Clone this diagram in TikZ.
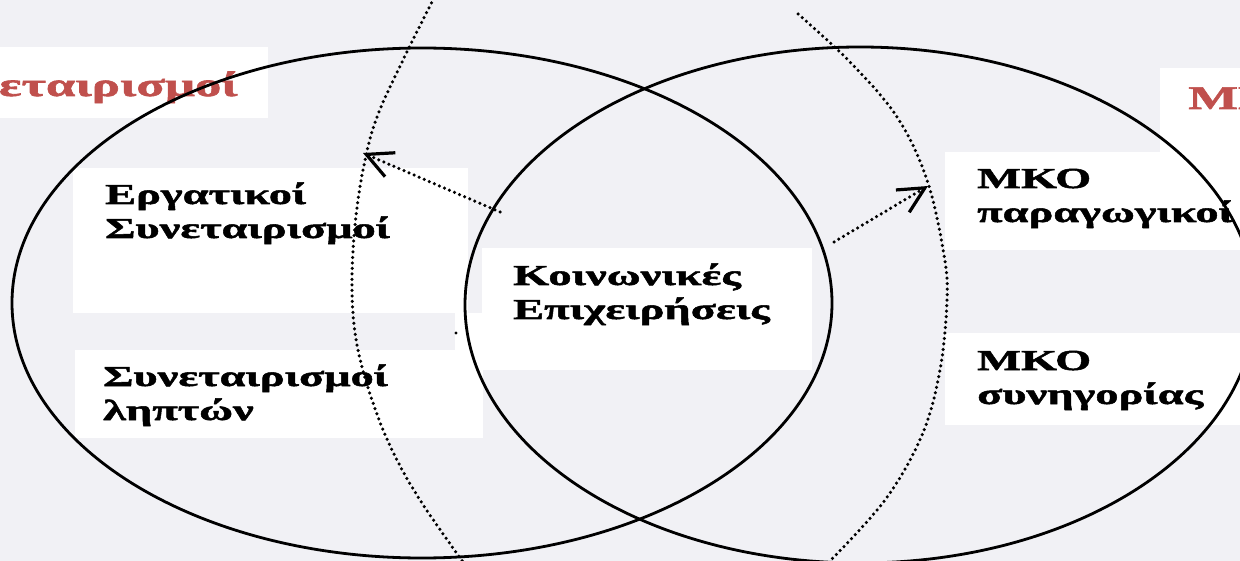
\documentclass[tikz,border=0pt]{standalone}
\usepackage{fontspec}
\setmainfont{Liberation Serif}
\newfontfamily\grfont{Liberation Serif}[FakeStretch=1.6, FakeBold=1.8]
\usetikzlibrary{arrows.meta}
\definecolor{bgc}{RGB}{241,241,245}
\definecolor{lblred}{RGB}{192,80,77}
\tikzset{
 whitebox/.style={fill=white, draw=none},
 lbl/.style={anchor=base west, align=left, inner sep=0pt, font=\grfont\bfseries\fontsize{29}{34}\selectfont},
 redtext/.style={inner sep=0pt, text=lblred, font=\grfont\bfseries\fontsize{33}{38}\selectfont},
 ring/.style={line width=2.8pt},
 dotline/.style={line width=3.5pt, line cap=round, dash pattern=on 0pt off 5.5pt},
 dotarrow/.style={dotline, -{Straight Barb[length=26pt,width=26pt,line width=3.2pt]}}
}
\begin{document}
\begin{tikzpicture}[x=1pt,y=-1pt]
\useasboundingbox (0,0) rectangle (1240,561);
\clip (0,0) rectangle (1240,561);
\fill[bgc] (0,0) rectangle (1240,561);
% white boxes
\fill[whitebox] (-2,47) rectangle (268,118);
\fill[whitebox] (1160,68) rectangle (1242,152);
\fill[whitebox] (73,168) rectangle (468,313);
\fill[whitebox] (75,350) rectangle (483,438);
\fill[whitebox] (482,248) rectangle (812,370);
\fill[whitebox] (455,313) rectangle (482,350);
\fill[whitebox] (945,152) rectangle (1242,250);
\fill[whitebox] (945,333) rectangle (1242,425);
% labels
\node[redtext, anchor=base east] (lefttitle) at (238,96) {εταιρισμοί};
\node[redtext, anchor=base west] (righttitle) at (1188,109) {ΜΚ};
\node[lbl] (erg) at (105,238) {Εργατικοί\\Συνεταιρισμοί};
\node[lbl] (lipt) at (103,420) {Συνεταιρισμοί\\ληπτών};
\node[lbl] (koin) at (513,319) {Κοινωνικές\\Επιχειρήσεις};
\node[lbl] (parag) at (977,222) {ΜΚΟ\\παραγωγικοί};
\node[lbl] (synig) at (977,404) {ΜΚΟ\\συνηγορίας};
% ellipses
\draw[ring] (422,303) ellipse [x radius=410, y radius=255];
\draw[ring] (860,305) ellipse [x radius=395, y radius=258];
% dotted arcs
\draw[dotline] plot[smooth, tension=0.6] coordinates {(434,-2) (403,60) (377,117) (364,165) (355,225) (352,290) (357,345) (372,400) (392,450) (420,500) (463,562)};
\draw[dotline] plot[smooth, tension=0.6] coordinates {(798,14) (850,62) (897,117) (927,180) (944,255) (947,300) (940,370) (922,435) (885,500) (829,562)};
% arrows
\coordinate (a1s) at (500,212);
\coordinate (a1t) at (363,153);
\coordinate (a2s) at (834,242);
\coordinate (a2t) at (928,186);
\draw[dotarrow] (a1s) -- (a1t);
\draw[dotarrow] (a2s) -- (a2t);
\fill (456,333) circle (1.6);
\end{tikzpicture}
\end{document}
